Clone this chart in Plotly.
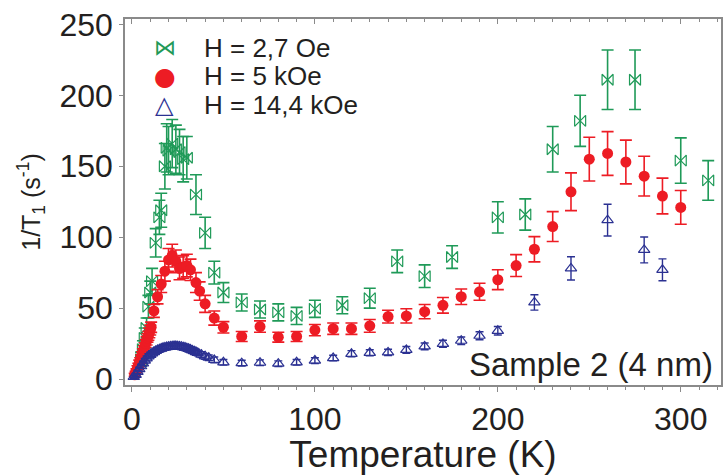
import plotly.graph_objects as go

# Spin-lattice relaxation rate 1/T1 vs temperature, sample 2 (4 nm)

# H = 2,7 Oe
green_T = [5, 6, 7, 8, 9, 10, 11, 13, 15, 16, 18, 19, 20, 22, 24, 26, 28, 30, 35, 40,
           45, 50, 60, 70, 80, 90, 100, 115, 130, 145, 160, 175, 200, 215, 230, 245,
           260, 275, 300, 315]
green_v = [14, 21, 29, 36, 51, 61, 69, 96, 114, 119, 150, 163, 161, 166, 162, 160, 155, 156, 130, 103,
           75, 61, 54, 49, 47, 44.5, 49.5, 52, 57, 83, 72.5, 86, 114, 116, 162, 182,
           211, 211, 154, 140]
green_err = [5, 6, 7, 7, 8, 8, 9, 10, 12, 12, 16, 17, 17, 17, 17, 16, 16, 15, 14, 11,
             8, 7, 6, 6, 6, 6, 6, 6, 7, 8, 8, 8, 11, 11, 16, 18,
             21, 21, 16, 14]

# H = 5 kOe
red_T = [1.5, 2, 2.5, 3, 3.5, 4, 4.5, 5, 5.5, 6, 6.5, 7, 7.5, 8, 8.5, 9, 9.5, 10, 10.5,
         12, 14, 16, 18, 20, 22, 24, 26, 28, 30, 32, 35, 37, 40, 45, 50,
         60, 70, 80, 90, 100, 110, 120, 130, 140, 150, 160, 170, 180, 190, 200,
         210, 220, 230, 240, 250, 260, 270, 280, 290, 300]
red_v = [3, 4.5, 6, 8, 9.5, 11.5, 13, 15, 17, 19, 21, 23, 25, 27, 29, 30.5, 32.5, 34.5, 36.5,
         48, 58, 67, 76, 84, 87, 83, 78, 79, 80, 77, 68, 62, 53, 43, 36.5,
         30, 37, 29.5, 30, 34.5, 35.5, 35.5, 37.5, 44, 44.5, 47.5, 52, 58, 61.5, 70,
         80, 91.5, 107.5, 132, 155, 159, 153, 143, 129, 121]
red_err = [1, 1, 1.2, 1.4, 1.6, 1.8, 2, 2, 2.2, 2.4, 2.5, 2.6, 2.8, 3, 3, 3.2, 3.4, 3.5, 3.6,
           4.5, 5, 6, 7, 8, 8, 8, 8, 8, 8, 7.5, 7, 6.5, 6, 5, 4,
           3.5, 4, 3.5, 3.5, 4, 4, 4, 4.5, 4.5, 5, 5, 5.5, 5.5, 6, 7,
           7.7, 8.9, 10.5, 13.3, 15.4, 15.4, 15.4, 14, 12.6, 11.9]

# H = 14,4 kOe
blue_T = [1, 2, 3, 4, 5, 6, 7, 8, 9, 10, 11, 12, 13, 14, 15, 16, 17, 18, 19, 20,
          21, 22, 23, 24, 25, 26, 27, 28, 29, 30, 31, 32, 33, 34, 35, 36, 38, 40, 42, 45,
          50, 60, 70, 80, 90, 100, 110, 120, 130, 140, 150, 160, 170, 180, 190, 200,
          220, 240, 260, 280, 290]
blue_v = [1.5, 3, 5, 7, 9, 11, 13, 14.5, 16, 17, 18, 19, 19.8, 20.5, 21, 21.5, 22, 22.3, 22.6, 22.8,
          23, 23.2, 23.3, 23.3, 23.2, 23, 22.8, 22.5, 22.2, 21.8, 21.3, 20.8, 20.2, 19.6, 19, 18.4, 17.2, 16, 15, 13.5,
          11.8, 11.2, 11.5, 10.8, 11.8, 13, 14.8, 17.8, 18.5, 18.8, 20.5, 23, 24.8, 27, 30.5, 34,
          54, 78, 112, 91, 77]
blue_err = [1, 1, 1.2, 1.3, 1.4, 1.5, 1.6, 1.7, 1.8, 1.9, 2, 2, 2, 2, 2, 2, 2, 2, 2, 2,
            2, 2, 2, 2, 2, 2, 2, 2, 2, 2, 2, 2, 2, 2, 2, 2, 2, 2, 2, 2,
            2, 2, 2, 2, 2, 2, 2, 2.2, 2.2, 2.2, 2.4, 2.4, 2.5, 2.6, 2.8, 3,
            5.4, 8.2, 11.2, 9.1, 7.7]

series_names = ["H = 2,7 Oe", "H = 5 kOe", "H = 14,4 kOe"]
legend_glyphs = ["\u22c8", "\u25cf", "\u25b3"]

GREEN = "#1f9a58"
RED = "#ed1c24"
BLUE = "#2b3192"
AXIS_GREY = "#8a8a8a"
TEXT = "#231f20"
FONT = "Liberation Sans, Arial, sans-serif"
X_RANGE = [-3.8, 322]

fig = go.Figure()

fig.add_trace(go.Scatter(
    x=green_T, y=green_v, mode="markers", name=series_names[0],
    marker=dict(symbol="bowtie-open", size=11, color=GREEN, line=dict(width=1.2, color=GREEN)),
    error_y=dict(type="data", array=green_err, color=GREEN, thickness=1.6, width=6),
    showlegend=False,
))
fig.add_trace(go.Scatter(
    x=red_T, y=red_v, mode="markers", name=series_names[1],
    marker=dict(symbol="circle", size=11, color=RED),
    error_y=dict(type="data", array=red_err, color=RED, thickness=1.6, width=6),
    showlegend=False,
))
fig.add_trace(go.Scatter(
    x=blue_T, y=blue_v, mode="markers", name=series_names[2],
    marker=dict(symbol="triangle-up-open", size=10, color=BLUE, line=dict(width=1.2, color=BLUE)),
    error_y=dict(type="data", array=blue_err, color=BLUE, thickness=1.4, width=4),
    showlegend=False,
))
# empty trace so the top frame axis (inward ticks) is rendered
fig.add_trace(go.Scatter(x=[], y=[], xaxis="x2", yaxis="y", showlegend=False, hoverinfo="skip"))

# Legend drawn as key glyphs plus labels in the upper-left corner
key_colors = [GREEN, RED, BLUE]
key_sizes = [22, 25, 24]
row_y = [0.921, 0.843, 0.764]
for glyph, name, col, ks, yy in zip(legend_glyphs, series_names, key_colors, key_sizes, row_y):
    fig.add_annotation(x=0.067, y=yy, xref="paper", yref="paper", text=glyph,
                       showarrow=False, xanchor="center", yanchor="middle",
                       font=dict(family="DejaVu Sans", size=ks, color=col))
    fig.add_annotation(x=0.129, y=yy, xref="paper", yref="paper", text=name,
                       showarrow=False, xanchor="left", yanchor="middle",
                       font=dict(family=FONT, size=26, color=TEXT))

fig.add_annotation(x=0.99, y=0.057, xref="paper", yref="paper", text="Sample 2 (4 nm)",
                   showarrow=False, xanchor="right", yanchor="middle",
                   font=dict(family=FONT, size=33, color=TEXT))

fig.update_layout(
    width=723, height=475,
    margin=dict(l=125, r=0, t=19, b=87),
    paper_bgcolor="white", plot_bgcolor="white",
    font=dict(family=FONT, color=TEXT),
    xaxis=dict(
        range=X_RANGE, tickvals=[0, 100, 200, 300],
        ticks="outside", ticklen=5, tickwidth=1.2, tickcolor=AXIS_GREY,
        minor=dict(dtick=10, ticks="outside", ticklen=3, tickwidth=1, tickcolor=AXIS_GREY),
        showline=True, linecolor=AXIS_GREY, linewidth=1.5,
        showgrid=False, zeroline=False,
        tickfont=dict(size=32, color=TEXT),
        title=dict(text="Temperature (K)", font=dict(size=37, color=TEXT), standoff=12),
    ),
    xaxis2=dict(
        overlaying="x", side="top", range=X_RANGE,
        tickvals=[0, 100, 200, 300], showticklabels=False,
        ticks="inside", ticklen=5, tickwidth=1.2, tickcolor=AXIS_GREY,
        minor=dict(dtick=10, ticks="inside", ticklen=3, tickwidth=1, tickcolor=AXIS_GREY),
        showline=True, linecolor=AXIS_GREY, linewidth=1.5,
        showgrid=False, zeroline=False,
    ),
    yaxis=dict(
        range=[-4.2, 253.8], tickvals=[0, 50, 100, 150, 200, 250],
        ticks="outside", ticklen=4, tickwidth=1.2, tickcolor=AXIS_GREY,
        showline=True, linecolor=AXIS_GREY, linewidth=1.5, mirror=True,
        showgrid=False, zeroline=False,
        tickfont=dict(size=32, color=TEXT),
        title=dict(text="1/T<sub>1</sub> (s<sup>-1</sup>)", font=dict(size=25, color=TEXT), standoff=12),
    ),
)

fig.write_html("out.html")
